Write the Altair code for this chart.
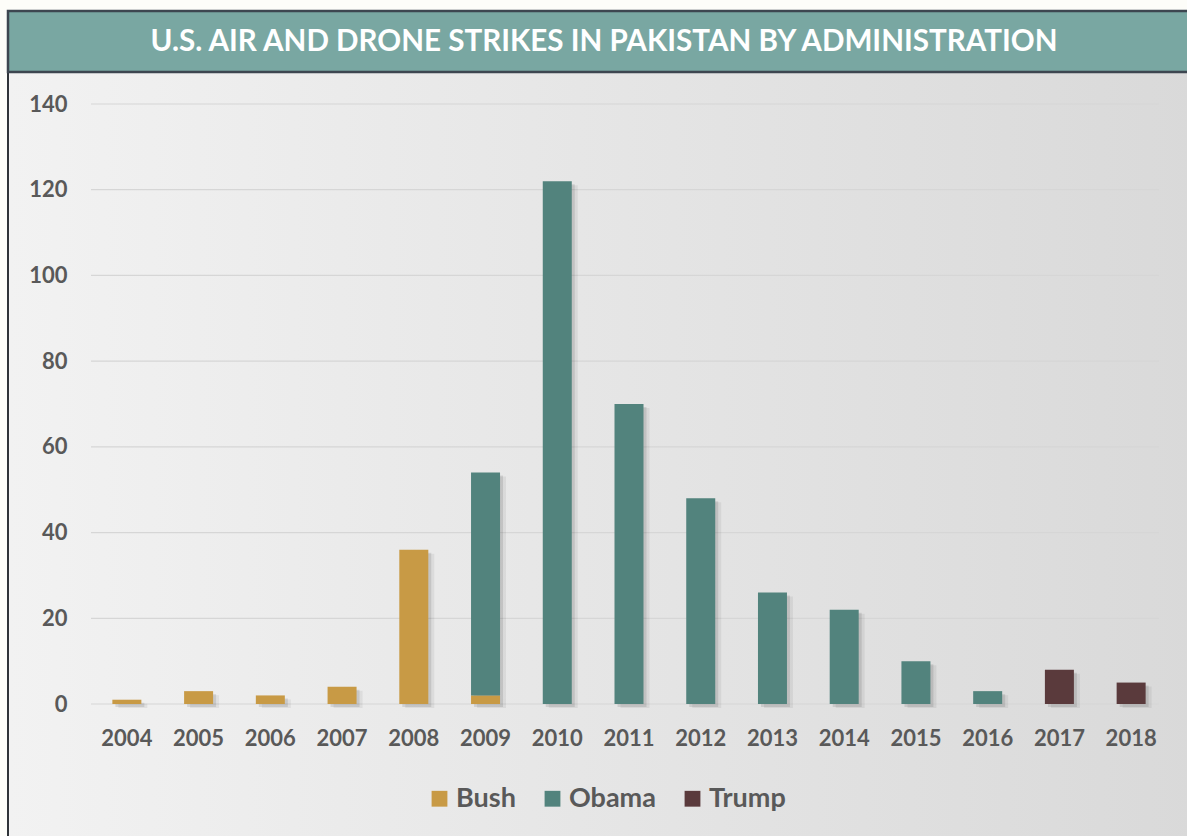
import altair as alt
import pandas as pd

# ---- data ----
years = ["2004", "2005", "2006", "2007", "2008", "2009", "2009",
         "2010", "2011", "2012", "2013", "2014", "2015", "2016", "2017", "2018"]
admins = ["Bush", "Bush", "Bush", "Bush", "Bush", "Bush", "Obama",
          "Obama", "Obama", "Obama", "Obama", "Obama", "Obama", "Obama", "Trump", "Trump"]
strikes = [1, 3, 2, 4, 36, 2, 52, 122, 70, 48, 26, 22, 10, 3, 8, 5]
admin_order = {"Bush": 0, "Obama": 1, "Trump": 2}

year_domain = [str(y) for y in range(2004, 2019)]
y_ticks = [0, 20, 40, 60, 80, 100, 120, 140]
title_text = "U.S. AIR AND DRONE STRIKES IN PAKISTAN BY ADMINISTRATION"

df = pd.DataFrame({"year": years, "admin": admins, "strikes": strikes})
df["ord"] = df["admin"].map(admin_order)
grid_df = pd.DataFrame({"strikes": y_ticks})

W, H = 1076, 600
PL, PT, PR, PB = 91, 104, 20, 132
FONT = "Lato"
GREY = "#595959"

one = pd.DataFrame({"a": [0]})

# background panel with gradient and dark left border
bg = alt.Chart(one).mark_rect(
    fill=alt.LinearGradient(
        gradient="linear",
        stops=[alt.GradientStop(color="#f2f2f2", offset=0),
               alt.GradientStop(color="#d9d9d9", offset=1)],
        x1=0, x2=1, y1=0, y2=0),
    stroke="#2f3338", strokeWidth=2,
).encode(x=alt.value(8 - PL), x2=alt.value(1187 - PL + 10),
         y=alt.value(60 - PT), y2=alt.value(836 - PT + 10))

# title bar
bar_title = alt.Chart(one).mark_rect(
    fill="#79a7a2", stroke="#3d4650", strokeWidth=2.5,
).encode(x=alt.value(8 - PL), x2=alt.value(1187 - PL + 10),
         y=alt.value(11 - PT), y2=alt.value(72 - PT))

title = alt.Chart(one).mark_text(
    font=FONT, fontSize=29.6, fontWeight="bold", color="white",
    align="center", baseline="middle",
).encode(x=alt.value(604 - PL), y=alt.value(42 - PT), text=alt.value(title_text))

y_scale = alt.Scale(domain=[0, 140], nice=False)
y_axis = alt.Axis(title=None, values=y_ticks, labelFont=FONT, labelFontSize=22,
                  labelFontWeight="bold", labelColor=GREY, labelPadding=24,
                  ticks=False, domain=False, grid=False, zindex=1)

grid = alt.Chart(grid_df).mark_rule(color="#d6d6d6", strokeWidth=1.2).encode(
    y=alt.Y("strikes:Q", scale=y_scale, axis=y_axis),
    x=alt.value(0), x2=alt.value(W - 8))

x_enc = alt.X("year:N", scale=alt.Scale(domain=year_domain, paddingInner=0, paddingOuter=0),
              axis=alt.Axis(title=None, labelAngle=0, labelFont=FONT, labelFontSize=22,
                            labelFontWeight="bold", labelColor=GREY, labelPadding=24,
                            ticks=False, domain=False, grid=False, zindex=1))
y_enc = alt.Y("strikes:Q", stack="zero", scale=y_scale, axis=y_axis)

base = alt.Chart(df)

shadow1 = base.mark_bar(size=29, color="black", opacity=0.10, xOffset=3, yOffset=3).encode(
    x=x_enc, y=y_enc, order=alt.Order("ord:Q", sort="ascending"))
shadow2 = base.mark_bar(size=29, color="black", opacity=0.06, xOffset=6, yOffset=4).encode(
    x=x_enc, y=y_enc, order=alt.Order("ord:Q", sort="ascending"))

bars = base.mark_bar(size=29).encode(
    x=x_enc, y=y_enc,
    color=alt.Color("admin:N",
                    scale=alt.Scale(domain=["Bush", "Obama", "Trump"],
                                    range=["#c89a45", "#52837d", "#5a3a3c"]),
                    legend=alt.Legend(title=None, orient="none", legendX=335, legendY=681,
                                      direction="horizontal", symbolType="square",
                                      symbolSize=250, symbolStrokeWidth=0,
                                      labelFont=FONT, labelFontSize=27, labelFontWeight="bold",
                                      labelColor=GREY, labelOffset=3, columnPadding=23,
                                      zindex=1)),
    order=alt.Order("ord:Q", sort="ascending"),
)

chart = alt.layer(bg, bar_title, title, grid, shadow2, shadow1, bars).properties(
    width=W, height=H,
    autosize=alt.AutoSizeParams(type="none"),
    padding={"left": PL, "top": PT, "right": PR, "bottom": PB},
    background="#fdfdf9",
).configure_view(stroke=None)

chart.save("out.html", embed_options={"renderer": "svg", "actions": False})
